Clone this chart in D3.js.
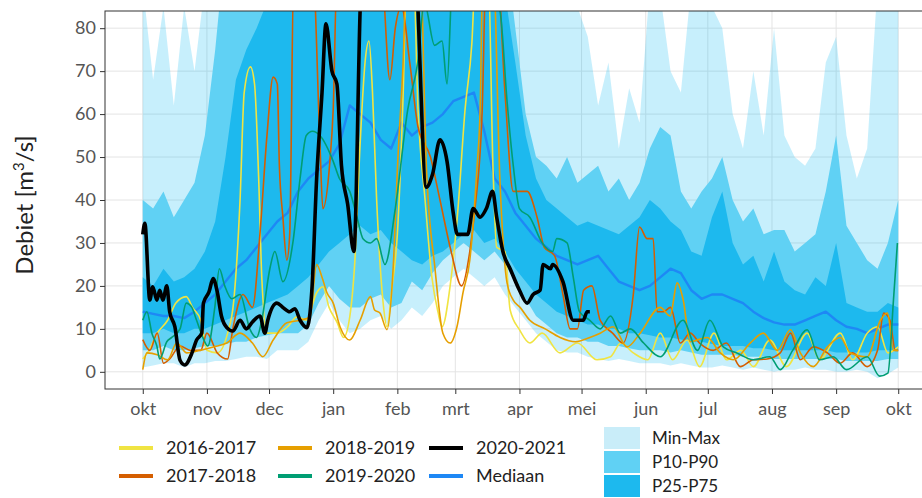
<!DOCTYPE html>
<html>
<head>
<meta charset="utf-8">
<script src="https://cdn.jsdelivr.net/npm/d3@7"></script>
<style>
  body { margin: 0; background: #fff; }
  text { font-family: Lato, "Open Sans", sans-serif; }
</style>
</head>
<body>
<svg id="chart" width="922" height="498"></svg>
<script>
// dagen sinds 1 oktober, stap van 5 dagen voor de banden en de mediaan
const bandDagen = d3.range(0, 370, 5);

const minV = [1, 1.5, 2, 2, 1, 2, 2, 2.5, 2.5, 3,
  3.5, 3.5, 3, 5, 5, 5, 7, 12, 16, 12,
  9, 10, 12, 13, 10, 12, 15, 13, 16, 20,
  22, 24, 22, 20, 22, 18, 15, 12, 9, 7,
  5, 4.5, 4.5, 3.5, 3, 2.5, 3, 2.5, 2, 2,
  2, 1.5, 2, 1.5, 1, 1, 1.5, 1, 0.5, 1,
  0.5, 0, 0.5, 0.5, 1, 0.5, 0.5, 0, 0, 0.5,
  0, -1.5, -0.5, 1];
const maxV = [90, 68, 85, 62, 85, 70, 90, 100, 110, 110,
  110, 110, 110, 110, 110, 110, 110, 110, 110, 110,
  110, 110, 110, 110, 110, 110, 110, 110, 110, 110,
  110, 110, 110, 110, 110, 110, 95, 90, 88, 90,
  86, 88, 85, 78, 62, 72, 52, 66, 58, 90,
  88, 70, 65, 90, 88, 85, 80, 60, 52, 70,
  55, 80, 55, 50, 48, 52, 72, 78, 55, 45,
  52, 90, 90, 90];
const p10 = [5, 5, 6, 5, 5, 5.5, 6, 6, 6.5, 7,
  7, 8, 8.5, 9, 9, 9, 11, 16, 20, 17,
  15, 15, 17, 18, 15, 16, 21, 19, 23, 26,
  28, 30, 28, 26, 28, 25, 21, 17, 13, 11,
  9, 8, 8, 7, 7, 6, 6, 5.5, 5, 5,
  5, 4.5, 5, 4.5, 4, 4, 4, 4, 3.5, 3.5,
  3.5, 3, 3, 3, 3, 3, 3, 3, 2.5, 2.5,
  2.5, 2.5, 3, 3];
const p90 = [40, 38, 42, 36, 40, 44, 55, 75, 100, 100,
  100, 100, 100, 100, 100, 100, 100, 100, 100, 100,
  100, 100, 100, 100, 100, 100, 100, 100, 100, 100,
  100, 100, 100, 100, 100, 100, 80, 60, 50, 48,
  45, 50, 44, 46, 48, 42, 45, 40, 44, 52,
  57, 55, 42, 38, 42, 45, 50, 40, 35, 38,
  32, 33, 33, 28, 30, 32, 42, 55, 34, 30,
  26, 24, 30, 40];
const p25 = [9, 9, 10, 9, 9, 10, 10, 11, 12, 13,
  14, 15, 16, 17, 18, 20, 22, 25, 28, 30,
  32, 34, 32, 33, 30, 28, 26, 25, 27, 28,
  30, 32, 33, 30, 31, 28, 24, 21, 18, 16,
  14, 13, 12, 11, 11, 10, 10, 9, 9, 8.5,
  8, 8, 7.5, 7, 7, 6.5, 6, 6, 6, 5.5,
  5.5, 5, 5, 5, 5, 5, 5, 4.5, 4.5, 4.5,
  4.5, 5, 5, 5];
const p75 = [22, 20, 24, 21, 22, 24, 28, 35, 50, 68,
  75, 80, 86, 90, 92, 95, 95, 95, 95, 95,
  95, 95, 95, 95, 95, 95, 95, 95, 95, 95,
  95, 95, 95, 95, 95, 88, 72, 55, 45, 40,
  38, 36, 34, 35, 34, 33, 32, 34, 36, 40,
  38, 35, 33, 28, 27, 36, 42, 30, 25, 27,
  21, 28, 21, 19, 18, 22, 20, 30, 16, 15,
  14, 14, 16, 15];
const mediaan = [14, 13.5, 13, 13, 12.5, 14, 16, 18, 21, 24,
  26, 29, 32, 35, 37, 42, 45, 47, 49, 53,
  62, 60, 58, 54, 52, 58, 55, 57, 58, 60,
  63, 64, 65, 56, 45, 42, 37, 34, 31, 29,
  27, 26, 25, 26, 27, 24, 21, 20, 19, 20,
  22, 24, 23, 19, 17, 18, 18, 17, 16, 14,
  12.5, 11.5, 11, 11, 12, 13, 14, 12, 10.5, 10,
  9, 10, 11, 11];

// jaarreeksen: [dag sinds 1 oktober, debiet]
const jaar2016 = [[0,3],[3,5],[7,9],[12,12],[16,16],[21,17.5],[24,15],[28,12],[31,5],[36,4.4],[41,9],[44,16.7],[47,40],[49,65],[52,71],[54,67],[56,45],[57.5,22],[60,9],[65,9],[70,10.5],[74.5,12.8],[79,12],[84,18.4],[87,19.8],[90,15],[94,11.4],[97,8],[100,12.8],[102.5,26],[105,53],[107.5,72.6],[109.3,77],[111,65],[113,40],[116,16.7],[118,10.5],[120.5,20],[123,32],[125.7,63],[127.7,95],[130.6,95],[133,61],[136.4,40],[139.7,22],[142.6,14],[144.6,10.5],[148.5,20],[152.3,38],[155.7,61],[159,76.5],[161,95],[166.8,95],[169.2,47.7],[171,29],[175,28],[177.5,14.4],[182,9.8],[187,6.7],[193,9],[201.6,4.4],[210,6.7],[219.5,2.8],[226,3.5],[231,6.7],[237,4.4],[244,2.8],[250,9],[256,2.8],[263,7.4],[269,1.2],[276,9],[282,2.8],[289,5],[295,1.2],[303,7.4],[311,1.2],[321,9],[327,2.8],[337,9],[343,2.8],[350,9],[355,10.5],[360,4.4],[365,5.8]];
const jaar2017 = [[0,7.5],[3.4,5],[7,9],[10,2],[13,3],[18,6],[23,5],[28,5],[31,9],[36,4.4],[41,3],[43.5,10],[48.4,18],[53,15],[56.6,32],[60,55],[63,68.6],[65,67],[66,48],[67.7,36],[69.6,26],[71,32],[73,95],[82,95],[85.6,53],[87,38],[90.4,49],[92,61],[94,95],[115,95],[119.4,68],[122,80],[125,85],[129,72],[133,57],[139,50],[143.6,40],[149,28],[154,20],[158,28],[160.5,38],[164,61],[166,95],[171,95],[175,65],[179,42],[185.7,42],[190.5,36],[194,29],[199,27],[203,18],[206.5,10],[210,10],[213,19],[217,20],[221,12],[227,9],[232,6.7],[237,18],[240,33.7],[243.7,31],[246.6,31],[248.5,14],[251.5,14],[255,15],[259.7,6.7],[264.5,9],[269,6.7],[275.6,5],[282,6.7],[288.7,1.2],[295,2.8],[301.7,3],[308,4.4],[313,9],[317.7,2.8],[324,5.8],[330.8,4.4],[337,2],[343,4.4],[350,1.2],[355,5],[358,13.7],[361,12],[363.6,5],[365,5]];
const jaar2018 = [[0,0.5],[2,4.4],[7,4],[12,2.8],[16.4,6.7],[21.3,4.4],[27.6,5],[34,5.8],[40.6,6.7],[47,9],[53,6.7],[58,3.5],[63,7.4],[69.6,11.4],[76,12],[80.8,12.8],[84,25],[86.6,22],[89,18.4],[92,16],[95.3,10.5],[100,7.4],[105,12],[110,17.5],[112,14.4],[114.6,13.7],[118,9.8],[121,24.4],[123.3,50],[125.7,71],[127.7,95],[134,95],[137,48],[141.2,24],[145,9],[148.5,6.7],[151.8,10.5],[154.7,18.4],[158,26],[161.5,47.7],[163,61],[164.4,95],[169.2,95],[172.6,44],[176,20.7],[179,16.7],[182.3,15],[187,12],[194.4,10],[201.6,8],[209,7],[216,8],[221,9],[227.3,10.5],[234,5.8],[240.3,9],[250,15],[254.8,13],[258.2,20.7],[261,17],[264.5,7],[272.7,8],[279,4.4],[285.3,2.8],[293.5,6.7],[299.8,9],[306.6,5],[312.9,9.8],[317.7,4.4],[324,1.2],[330.8,5.8],[337,8],[341.9,4.4],[350,3.5],[356.4,12],[359.8,13.7],[362.7,5],[365,5]];
const jaar2019 = [[0,12],[2,14],[4.4,9],[6.8,6],[8.2,3],[11.6,7],[14,8],[18,10],[21,16],[23.7,15],[26,12],[29,8],[31.4,6],[34.8,15],[37,24],[39.6,20],[43,17],[47,18],[51.7,10],[55,8],[57.5,12],[61.4,24],[63.8,28],[67.7,21],[72.5,30],[76,45],[79,55],[82,56],[85.6,55],[92,49],[95,45],[100,42],[103.5,36],[106.4,31],[110,30],[113,31],[117,25],[122,38],[128,61],[133,72.5],[136,86],[141,76],[144.6,77],[147,67],[150,95],[163,95],[172.6,84],[176,63],[179,48],[182,38],[187,36],[193,30],[198,28],[200,31],[205,30],[208,22],[211,14],[216,12],[221,10],[226,13],[230.7,9],[235.5,10],[242,6.7],[250,3.5],[261,12],[268,5],[274,12],[280.5,5.8],[287,4.4],[295,2.8],[303,3.5],[308,0.5],[314,5],[321,9.8],[327,2.8],[333.6,3.5],[340,0.5],[350,3.5],[356,-1],[360,-0.3],[362.7,16.7],[364.6,30]];
const jaar2020 = [[0,32],[1,34.6],[3.4,16.7],[4.8,19.8],[6.8,16.7],[8.2,19],[9.7,16.7],[11.6,20],[13,14],[15.5,10.5],[18,2.7],[20.3,1.6],[23.7,4.3],[26,7.4],[28.5,9],[29.3,16],[32,18.6],[34,21.7],[36,18.6],[38,13],[40.6,10.3],[43.5,9.5],[47,12],[50,10],[53,11.6],[56.6,13],[59,9],[60.4,12],[64.8,16],[67.7,15],[71,14],[73.5,14.7],[76,12],[79.3,10.3],[81.7,19],[84,45],[86.6,65],[88.5,81],[91.4,70],[93.8,67],[96,48],[99,39],[102,28],[105,84],[107,110],[131,110],[133,84],[137,43],[140,46],[143.6,54],[147,49],[150,37],[152,32],[157,32],[159.6,38],[163,36],[166,38],[169,42],[171,36],[174,28],[177.5,24],[182,19],[185.7,16],[188.6,18],[192,19],[193.4,25],[197,24],[198,25],[203,21],[208,12],[212.8,12],[214.7,14],[216,14]];

const maanden = ['okt', 'nov', 'dec', 'jan', 'feb', 'mrt', 'apr', 'mei', 'jun', 'jul', 'aug', 'sep', 'okt'];
const yTicks = [0, 10, 20, 30, 40, 50, 60, 70, 80];

const reeksen = [
  { label: '2016-2017', data: jaar2016, color: '#F0E442', width: 1.6 },
  { label: '2017-2018', data: jaar2017, color: '#D55E00', width: 1.6 },
  { label: '2018-2019', data: jaar2018, color: '#E69F00', width: 1.6 },
  { label: '2019-2020', data: jaar2019, color: '#009E73', width: 1.6 },
  { label: '2020-2021', data: jaar2020, color: '#000000', width: 3.6 },
];
const mediaanKleur = '#1E88F5';
const bandKleuren = { minmax: 'rgba(0,180,240,0.22)', p1090: '#60d1f4', p2575: '#1db9ee' };
const bandLegendKleuren = ['#c9edf9', '#60d1f4', '#1db9ee'];

const startDatum = Date.UTC(2020, 9, 1);
const toDate = (d) => new Date(startDatum + d * 864e5);

const panel = { left: 105, right: 936, top: 11, bottom: 389 };
const pad = (panel.right - panel.left) / 1.1 * 0.05;

const svg = d3.select('#chart');

const x = d3.scaleUtc()
  .domain([toDate(0), toDate(365)])
  .range([panel.left + pad, panel.right - pad]);
const y = d3.scaleLinear()
  .domain([-4, 84])
  .range([panel.bottom, panel.top]);

const maandTicks = d3.utcMonth.range(toDate(0), toDate(366));

svg.append('defs').append('clipPath').attr('id', 'clip')
  .append('rect')
  .attr('x', panel.left).attr('y', panel.top)
  .attr('width', panel.right - panel.left).attr('height', panel.bottom - panel.top);

// grid
const grid = svg.append('g');
grid.selectAll('line.h').data(yTicks).enter().append('line')
  .attr('x1', panel.left).attr('x2', panel.right)
  .attr('y1', (d) => y(d)).attr('y2', (d) => y(d))
  .attr('stroke', '#e4e4e4').attr('stroke-width', 1);
grid.selectAll('line.v').data(maandTicks).enter().append('line')
  .attr('y1', panel.top).attr('y2', panel.bottom)
  .attr('x1', (d) => x(d)).attr('x2', (d) => x(d))
  .attr('stroke', '#e4e4e4').attr('stroke-width', 1);

const plot = svg.append('g').attr('clip-path', 'url(#clip)');

const banden = bandDagen.map((d, i) => ({
  date: toDate(d), min: minV[i], max: maxV[i], p10: p10[i], p90: p90[i], p25: p25[i], p75: p75[i], med: mediaan[i],
}));

const area = (lo, hi) => d3.area()
  .x((d) => x(d.date))
  .y0((d) => y(d[lo]))
  .y1((d) => y(d[hi]));

plot.append('path').datum(banden).attr('d', area('min', 'max')).attr('fill', bandKleuren.minmax);
plot.append('path').datum(banden).attr('d', area('p10', 'p90')).attr('fill', bandKleuren.p1090);
plot.append('path').datum(banden).attr('d', area('p25', 'p75')).attr('fill', bandKleuren.p2575);

plot.append('path').datum(banden)
  .attr('d', d3.line().x((d) => x(d.date)).y((d) => y(d.med)))
  .attr('fill', 'none')
  .attr('stroke', mediaanKleur)
  .attr('stroke-width', 2.4)
  .attr('stroke-linejoin', 'round');

const lijn = d3.line()
  .x((d) => x(toDate(d[0])))
  .y((d) => y(d[1]))
  .curve(d3.curveMonotoneX);

plot.selectAll('path.jaar').data(reeksen).enter().append('path')
  .attr('class', 'jaar')
  .attr('d', (d) => lijn(d.data))
  .attr('fill', 'none')
  .attr('stroke', (d) => d.color)
  .attr('stroke-width', (d) => d.width)
  .attr('stroke-linejoin', 'round');

// paneelrand
svg.append('rect')
  .attr('x', panel.left).attr('y', panel.top)
  .attr('width', panel.right - panel.left).attr('height', panel.bottom - panel.top)
  .attr('fill', 'none').attr('stroke', '#333').attr('stroke-width', 1);

// assen
const xAxis = svg.append('g')
  .attr('transform', `translate(0,${panel.bottom})`)
  .call(d3.axisBottom(x).tickValues(maandTicks).tickFormat((d, i) => maanden[i]).tickSize(5).tickPadding(8));
const yAxis = svg.append('g')
  .attr('transform', `translate(${panel.left},0)`)
  .call(d3.axisLeft(y).tickValues(yTicks).tickSize(5).tickPadding(4));

[xAxis, yAxis].forEach((g) => {
  g.select('.domain').remove();
  g.selectAll('.tick line').attr('stroke', '#333');
  g.selectAll('.tick text')
    .attr('fill', '#555')
    .style('font-size', '18px')
    .style('font-family', 'Lato, "Open Sans", sans-serif');
});

// y-as titel
const titel = svg.append('text')
  .attr('transform', 'translate(33,205) rotate(-90)')
  .attr('text-anchor', 'middle')
  .attr('fill', '#222')
  .style('font-size', '24px');
titel.append('tspan').text('Debiet [m');
titel.append('tspan').attr('dy', -9).style('font-size', '15px').text('3');
titel.append('tspan').attr('dy', 9).text('/s]');

// legenda lijnen
const legendItems = [
  { label: '2016-2017', color: '#F0E442', col: 0, row: 0 },
  { label: '2018-2019', color: '#E69F00', col: 1, row: 0 },
  { label: '2020-2021', color: '#000000', col: 2, row: 0 },
  { label: '2017-2018', color: '#D55E00', col: 0, row: 1 },
  { label: '2019-2020', color: '#009E73', col: 1, row: 1 },
  { label: 'Mediaan', color: mediaanKleur, col: 2, row: 1 },
];
const colX = [119, 278, 429];
const rowY = [448, 476];

const leg = svg.append('g');
const li = leg.selectAll('g').data(legendItems).enter().append('g')
  .attr('transform', (d) => `translate(${colX[d.col]},${rowY[d.row]})`);
li.append('line')
  .attr('x1', 0).attr('x2', 34)
  .attr('stroke', (d) => d.color)
  .attr('stroke-width', 4);
li.append('text')
  .attr('x', 47)
  .attr('dy', '0.35em')
  .attr('fill', '#222')
  .style('font-size', '18px')
  .text((d) => d.label);

// legenda banden
const bandLabels = ['Min-Max', 'P10-P90', 'P25-P75'];
const bl = leg.selectAll('g.band').data(bandLabels).enter().append('g')
  .attr('class', 'band')
  .attr('transform', (d, i) => `translate(604,${427 + i * 24})`);
bl.append('rect')
  .attr('width', 36).attr('height', 22)
  .attr('fill', (d, i) => bandLegendKleuren[i]);
bl.append('text')
  .attr('x', 48).attr('y', 11)
  .attr('dy', '0.35em')
  .attr('fill', '#222')
  .style('font-size', '17px')
  .text((d) => d);
</script>
</body>
</html>
